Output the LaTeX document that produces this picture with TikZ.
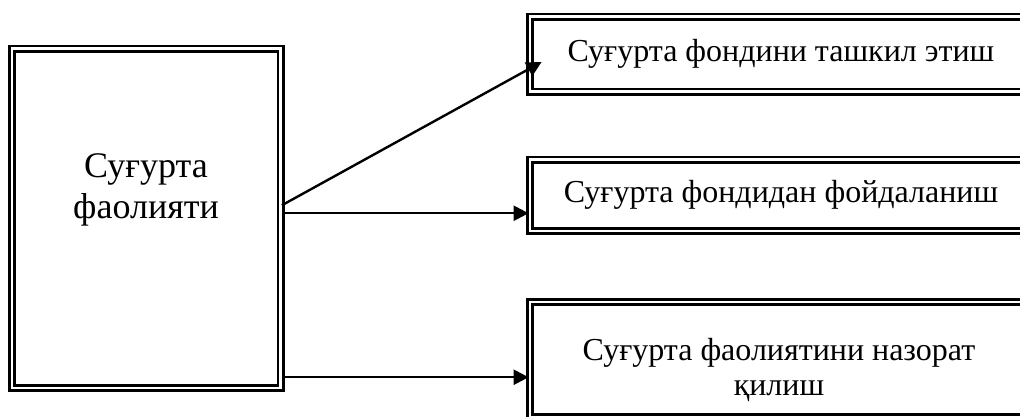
\documentclass[tikz,border=0pt]{standalone}
\usepackage{fontspec}
\setmainfont{Liberation Serif}
\usetikzlibrary{arrows.meta}
\begin{document}
\begin{tikzpicture}[x=1pt, y=-1pt,
        dbox/.style={draw, line width=2.8pt, double, double distance=2.4pt, inner sep=0pt, align=center},
        arr/.style={line width=2.4pt, -{Triangle[length=15pt, width=15pt]}}]
        \useasboundingbox (0,0) rectangle (1020,416);
        \clip (0,0) rectangle (1020,416);

        % Activity box
        \node[dbox, minimum width=268.5pt, minimum height=339.5pt] (act) at (146.25, 218.25){};
        \node[font=\fontsize{36}{41}\selectfont, align=center] (actlbl) at (146, 190){Суғурта\\фаолияти};

        % Branches
        \node[dbox, minimum width=502pt, minimum height=75pt, font=\fontsize{32}{37}\selectfont] (fund) at (781, 54){Суғурта фондини ташкил этиш};
        \node[dbox, minimum width=502pt, minimum height=71.5pt, font=\fontsize{32}{37}\selectfont] (use) at (781, 195.25){Суғурта фондидан фойдаланиш};
        \node[dbox, minimum width=502pt, minimum height=115pt] (ctrl) at (781, 359.5){};
        \node[font=\fontsize{32}{35}\selectfont, align=center] (ctrllbl) at (779, 370){Суғурта фаолиятини назорат\\қилиш};

        % Arrows
        \draw[arr] ([yshift=13pt]act.east) -- ([xshift=13pt, yshift=-8pt]fund.west);
        \draw[arr] ([yshift=5pt]act.east) -- ([yshift=5pt]act.east -| use.west);
        \draw[arr] ([yshift=-159pt]act.east) -- ([yshift=-159pt]act.east -| ctrl.west);
    \end{tikzpicture}
\end{document}
